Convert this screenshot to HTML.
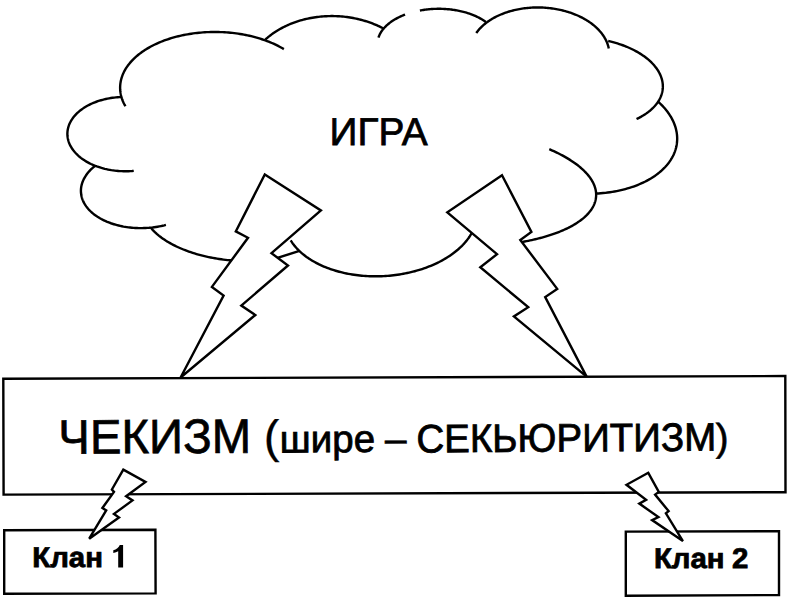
<!DOCTYPE html>
<html><head><meta charset="utf-8"><title>diagram</title>
<style>
html,body{margin:0;padding:0;background:#fff;width:790px;height:599px;overflow:hidden;}
svg{display:block;}
text{font-family:"Liberation Sans", sans-serif;}
</style></head><body>
<svg width="790" height="599" viewBox="0 0 790 599">
<g fill="none" stroke="#000" stroke-width="2.40" stroke-linecap="butt" stroke-linejoin="miter">
<path d="M125.42,106.28 L124.80,105.17 L124.21,104.06 L123.66,102.94 L123.15,101.82 L122.68,100.69 L122.24,99.56 L121.85,98.42 L121.50,97.27 L121.18,96.13 L120.91,94.98 L120.68,93.82 L120.49,92.67 L120.33,91.51 L120.22,90.35 L120.15,89.19 L120.12,88.03 L120.13,86.87 L120.18,85.71 L120.27,84.55 L120.40,83.40 L120.58,82.24 L120.79,81.09 L121.04,79.94 L121.33,78.80 L121.67,77.65 L122.04,76.52 L122.45,75.39 L122.90,74.26 L123.39,73.14 L123.92,72.03 L124.49,70.92 L125.10,69.82 L125.75,68.73 L126.43,67.64 L127.15,66.57 L127.91,65.50 L128.71,64.45 L129.55,63.40 L130.42,62.37 L131.32,61.34 L132.27,60.33 L133.24,59.33 L134.26,58.34 L135.30,57.37 L136.39,56.40 L137.50,55.46 L138.65,54.52 L139.83,53.60 L141.04,52.69 L142.29,51.80 L143.57,50.93 L144.87,50.07 L146.21,49.22 L147.58,48.40 L148.97,47.59 L150.39,46.79 L151.84,46.02 L153.32,45.26 L154.83,44.52 L156.36,43.80 L157.91,43.10 L159.49,42.42 L161.10,41.76 L162.73,41.11 L164.38,40.49 L166.05,39.89 L167.74,39.30 L169.45,38.74 L171.19,38.20 L172.94,37.68 L174.71,37.18 L176.50,36.71 L178.30,36.25 L180.12,35.82 L181.95,35.41 L183.80,35.02 L185.67,34.66 L187.54,34.32 L189.43,34.00 L191.33,33.70 L193.24,33.43 L195.16,33.18 L197.08,32.95 L199.02,32.75 L200.96,32.57 L202.91,32.41 L204.86,32.28 L206.82,32.17 L208.79,32.09 L210.75,32.02 L212.72,31.99 L214.69,31.97 L216.66,31.98 L218.63,32.02 L220.60,32.08 L222.56,32.16 L224.53,32.27 L226.49,32.40 L228.44,32.55 L230.39,32.73 L232.33,32.93 L234.27,33.15 L236.20,33.40 L238.12,33.67 L240.03,33.96 L241.93,34.28 L243.82,34.62 L245.70,34.98 L247.56,35.37 L249.41,35.77 L251.25,36.20 L253.07,36.66 L254.88,37.13 L256.67,37.63 L258.44,38.14 L260.20,38.68 L261.93,39.24 L263.65,39.82 L265.35,40.42 L267.02,41.04 L268.68,41.68 L270.31,42.34 L271.91,43.02 L273.50,43.72 L275.06,44.44 L276.59,45.18 L278.10,45.93 L279.58,46.71 L281.04,47.50 L282.47,48.31 L283.87,49.13"/>
<path d="M265.31,39.60 L266.31,38.70 L267.34,37.81 L268.39,36.93 L269.46,36.07 L270.55,35.23 L271.67,34.40 L272.80,33.58 L273.95,32.78 L275.12,32.00 L276.31,31.23 L277.52,30.48 L278.74,29.75 L279.99,29.03 L281.25,28.33 L282.52,27.65 L283.82,26.99 L285.13,26.34 L286.45,25.71 L287.79,25.10 L289.15,24.51 L290.52,23.94 L291.90,23.39 L293.30,22.85 L294.71,22.34 L296.13,21.84 L297.56,21.36 L299.01,20.91 L300.47,20.47 L301.93,20.05 L303.41,19.66 L304.90,19.28 L306.40,18.92 L307.90,18.59 L309.42,18.27 L310.94,17.98 L312.47,17.70 L314.00,17.45 L315.54,17.22 L317.09,17.01 L318.64,16.82 L320.20,16.65 L321.76,16.50 L323.33,16.38 L324.90,16.27 L326.47,16.19 L328.04,16.13 L329.62,16.08 L331.20,16.07 L332.78,16.07 L334.35,16.09 L335.93,16.14 L337.51,16.20 L339.09,16.29 L340.66,16.40 L342.23,16.53 L343.80,16.68 L345.37,16.85 L346.93,17.05 L348.49,17.26 L350.04,17.50 L351.59,17.75 L353.13,18.03 L354.67,18.33 L356.20,18.65 L357.72,18.99 L359.23,19.35 L360.74,19.73 L362.24,20.13 L363.72,20.55 L365.20,20.99 L366.67,21.45 L368.13,21.93 L369.57,22.43 L371.01,22.95 L372.43,23.49 L373.84,24.05 L375.24,24.62 L376.63,25.22 L378.00,25.83 L379.35,26.46 L380.69,27.11 L382.02,27.78 L383.33,28.47"/>
<path d="M378.49,37.58 L378.71,36.92 L378.95,36.26 L379.22,35.61 L379.50,34.96 L379.81,34.31 L380.14,33.67 L380.49,33.02 L380.87,32.39 L381.26,31.75 L381.68,31.12 L382.12,30.50 L382.58,29.88 L383.06,29.27 L383.56,28.66 L384.08,28.05 L384.63,27.45 L385.19,26.86 L385.77,26.28 L386.37,25.70 L386.99,25.12 L387.63,24.56 L388.30,24.00 L388.97,23.45 L389.67,22.90 L390.39,22.36 L391.12,21.84 L391.87,21.31 L392.64,20.80 L393.43,20.30 L394.23,19.80 L395.05,19.32 L395.88,18.84 L396.74,18.37 L397.60,17.91 L398.49,17.46 L399.38,17.02 L400.29,16.59 L401.22,16.17 L402.16,15.76 L403.11,15.37 L404.08,14.98 L405.06,14.60"/>
<path d="M419.90,10.51 L421.02,10.31 L422.15,10.12 L423.29,9.94 L424.43,9.77 L425.58,9.62 L426.73,9.48 L427.89,9.36 L429.05,9.24 L430.21,9.14 L431.38,9.05 L432.55,8.98 L433.72,8.92 L434.89,8.87 L436.06,8.83 L437.23,8.81 L438.41,8.80 L439.58,8.80 L440.75,8.82 L441.93,8.85 L443.10,8.89 L444.26,8.94 L445.43,9.01 L446.59,9.09 L447.75,9.19 L448.91,9.29 L450.06,9.41 L451.21,9.55 L452.35,9.69 L453.48,9.85 L454.61,10.02 L455.74,10.20 L456.85,10.40 L457.96,10.61 L459.06,10.83 L460.16,11.06 L461.24,11.31 L462.32,11.56 L463.39,11.83 L464.44,12.11 L465.49,12.41 L466.53,12.71 L467.55,13.03 L468.57,13.35 L469.57,13.69 L470.56,14.04 L471.54,14.40 L472.50,14.78 L473.45,15.16 L474.39,15.55 L475.32,15.95 L476.23,16.37 L477.12,16.79 L478.00,17.23 L478.87,17.67 L479.72,18.13 L480.55,18.59 L481.37,19.06 L482.17,19.54 L482.95,20.03 L483.72,20.53 L484.47,21.04 L485.20,21.56 L485.91,22.08"/>
<path d="M476.24,33.02 L476.82,32.21 L477.43,31.42 L478.06,30.63 L478.71,29.85 L479.39,29.08 L480.09,28.32 L480.82,27.56 L481.57,26.82 L482.34,26.09 L483.13,25.37 L483.94,24.66 L484.78,23.96 L485.64,23.27 L486.52,22.60 L487.42,21.93 L488.34,21.28 L489.28,20.64 L490.24,20.01 L491.22,19.40 L492.22,18.80 L493.24,18.21 L494.27,17.64 L495.33,17.08 L496.40,16.53 L497.48,16.00 L498.59,15.48 L499.71,14.98 L500.84,14.49 L501.99,14.02 L503.16,13.56 L504.34,13.12 L505.53,12.69 L506.74,12.28 L507.96,11.88 L509.19,11.50 L510.44,11.14 L511.69,10.79 L512.96,10.47 L514.24,10.15 L515.52,9.86 L516.82,9.58 L518.12,9.31 L519.44,9.07 L520.76,8.84 L522.09,8.63 L523.42,8.43 L524.77,8.26 L526.12,8.10 L527.47,7.96 L528.83,7.83 L530.19,7.73 L531.56,7.64 L532.93,7.57 L534.30,7.52 L535.67,7.48 L537.05,7.46 L538.42,7.47 L539.80,7.48 L541.18,7.52 L542.55,7.57 L543.93,7.65 L545.30,7.73 L546.68,7.84 L548.04,7.97 L549.41,8.11 L550.77,8.27 L552.13,8.45 L553.48,8.64 L554.83,8.85 L556.17,9.08 L557.51,9.33 L558.83,9.59 L560.15,9.87 L561.47,10.17 L562.77,10.49 L564.06,10.82 L565.35,11.16 L566.63,11.53 L567.89,11.91 L569.14,12.30 L570.39,12.72 L571.62,13.14 L572.83,13.59 L574.04,14.05 L575.23,14.52 L576.41,15.01 L577.57,15.51 L578.72,16.03 L579.85,16.56 L580.97,17.11 L582.07,17.67 L583.16,18.25 L584.22,18.84 L585.27,19.44 L586.31,20.05 L587.32,20.68 L588.32,21.32 L589.29,21.97 L590.25,22.64 L591.19,23.32 L592.10,24.00 L593.00,24.70 L593.88,25.42 L594.73,26.14 L595.56,26.87 L596.38,27.61 L597.17,28.36 L597.93,29.13 L598.68,29.90 L599.40,30.68 L600.09,31.47 L600.77,32.27 L601.42,33.07 L602.04,33.88 L602.65,34.71 L603.22,35.53 L603.78,36.37 L604.30,37.21 L604.80,38.06 L605.28,38.91 L605.73,39.77 L606.16,40.63 L606.56,41.50 L606.93,42.38 L607.27,43.25 L607.59,44.14 L607.89,45.02 L608.15,45.91 L608.39,46.80 L608.61,47.69 L608.79,48.59"/>
<path d="M608.20,41.01 L610.08,41.44 L611.95,41.91 L613.80,42.40 L615.63,42.92 L617.45,43.47 L619.24,44.04 L621.01,44.63 L622.76,45.25 L624.48,45.90 L626.17,46.57 L627.84,47.26 L629.49,47.98 L631.10,48.72 L632.68,49.48 L634.24,50.26 L635.76,51.07 L637.24,51.90 L638.70,52.74 L640.12,53.61 L641.50,54.49 L642.85,55.40 L644.16,56.32 L645.43,57.26 L646.66,58.21 L647.85,59.19 L649.00,60.17 L650.11,61.18 L651.17,62.19 L652.20,63.22 L653.18,64.26 L654.11,65.32 L655.01,66.39 L655.85,67.46 L656.65,68.55 L657.40,69.65 L658.11,70.75 L658.77,71.87 L659.38,72.99 L659.94,74.12 L660.45,75.25 L660.92,76.39 L661.33,77.53 L661.70,78.68 L662.01,79.82 L662.28,80.98 L662.49,82.13 L662.66,83.28 L662.77,84.43 L662.83,85.58 L662.85,86.73 L662.81,87.88 L662.72,89.02 L662.58,90.16 L662.39,91.30 L662.15,92.43 L661.86,93.55 L661.52,94.67 L661.13,95.78 L660.70,96.88 L660.21,97.97 L659.67,99.05 L659.08,100.12 L658.45,101.18 L657.77,102.23 L657.04,103.26 L656.26,104.28 L655.44,105.29 L654.58,106.29 L653.66,107.26 L652.71,108.23 L651.70,109.17 L650.66,110.10 L649.57,111.01 L648.44,111.90 L647.27,112.78 L646.06,113.63 L644.81,114.46 L643.52,115.28 L642.19,116.07 L640.83,116.84 L639.43,117.59 L637.99,118.31 L636.52,119.01"/>
<path d="M658.51,101.96 L659.89,103.25 L661.22,104.55 L662.51,105.88 L663.74,107.22 L664.92,108.57 L666.06,109.94 L667.14,111.32 L668.17,112.72 L669.14,114.13 L670.06,115.55 L670.93,116.98 L671.74,118.41 L672.50,119.86 L673.21,121.32 L673.85,122.78 L674.44,124.25 L674.98,125.72 L675.45,127.20 L675.87,128.68 L676.23,130.16 L676.54,131.65 L676.78,133.13 L676.97,134.62 L677.10,136.10 L677.17,137.59 L677.19,139.07 L677.14,140.54 L677.04,142.01 L676.87,143.48 L676.65,144.94 L676.38,146.39 L676.04,147.84 L675.65,149.27 L675.20,150.70 L674.69,152.11 L674.12,153.52 L673.50,154.91 L672.82,156.29 L672.09,157.65 L671.30,159.00 L670.46,160.34 L669.56,161.65 L668.61,162.95 L667.60,164.24 L666.55,165.50 L665.44,166.75 L664.28,167.97 L663.06,169.17 L661.80,170.36 L660.49,171.52 L659.13,172.65 L657.73,173.76 L656.27,174.85 L654.77,175.92 L653.23,176.95 L651.64,177.97 L650.01,178.95 L648.34,179.91 L646.62,180.84 L644.87,181.74 L643.07,182.61 L641.24,183.45 L639.37,184.26 L637.47,185.04 L635.53,185.79 L633.55,186.51 L631.55,187.20 L629.51,187.85 L627.45,188.47 L625.35,189.06 L623.23,189.62 L621.08,190.14 L618.91,190.63 L616.71,191.08 L614.49,191.50 L612.25,191.88 L609.99,192.23 L607.71,192.54 L605.41,192.82 L603.10,193.06 L600.78,193.26 L598.44,193.43 L596.09,193.56"/>
<path d="M549.30,149.20 L550.84,149.86 L552.35,150.53 L553.84,151.21 L555.31,151.89 L556.76,152.59 L558.19,153.29 L559.59,153.99 L560.97,154.70 L562.33,155.42 L563.67,156.15 L564.98,156.88 L566.26,157.62 L567.53,158.37 L568.77,159.12 L569.98,159.87 L571.17,160.64 L572.34,161.40 L573.47,162.18 L574.59,162.95 L575.68,163.74 L576.74,164.53 L577.77,165.32 L578.78,166.12 L579.76,166.92 L580.72,167.72 L581.65,168.53 L582.55,169.34 L583.42,170.16 L584.27,170.98 L585.08,171.81 L585.87,172.63 L586.63,173.46 L587.37,174.29 L588.07,175.13 L588.75,175.97 L589.39,176.81 L590.01,177.65 L590.60,178.49 L591.16,179.34 L591.69,180.19 L592.19,181.04 L592.67,181.89 L593.11,182.74 L593.52,183.59 L593.90,184.44 L594.26,185.29 L594.58,186.15 L594.87,187.00 L595.13,187.85 L595.37,188.71 L595.57,189.56 L595.74,190.41 L595.88,191.27 L596.00,192.12 L596.08,192.97 L596.13,193.81 L596.15,194.66 L596.14,195.51 L596.10,196.35 L596.03,197.19 L595.93,198.03 L595.80,198.87 L595.64,199.71 L595.45,200.54 L595.23,201.37 L594.98,202.19 L594.70,203.02 L594.38,203.84 L594.04,204.65 L593.67,205.47 L593.27,206.28 L592.84,207.08 L592.38,207.88 L591.89,208.68 L591.37,209.47 L590.82,210.26 L590.25,211.04 L589.64,211.82 L589.00,212.59 L588.34,213.36 L587.64,214.12 L586.92,214.88 L586.17,215.63 L585.39,216.37 L584.59,217.11 L583.75,217.84 L582.89,218.57 L582.00,219.29 L581.08,220.00 L580.14,220.70 L579.17,221.40 L578.17,222.09 L577.14,222.78 L576.09,223.45 L575.01,224.12 L573.91,224.78 L572.78,225.44 L571.63,226.08 L570.45,226.72 L569.24,227.35 L568.01,227.97 L566.76,228.58 L565.48,229.19 L564.18,229.78 L562.85,230.37 L561.50,230.95 L560.13,231.51 L558.74,232.07 L557.32,232.62 L555.88,233.16 L554.42,233.69 L552.93,234.21 L551.43,234.73 L549.90,235.23 L548.35,235.72 L546.79,236.20 L545.20,236.67 L543.59,237.13 L541.96,237.58 L540.32,238.02 L538.65,238.45 L536.97,238.87 L535.27,239.28 L533.55,239.67 L531.82,240.06 L530.06,240.43 L528.29,240.80 L526.51,241.15 L524.70,241.49 L522.89,241.82 L521.05,242.14"/>
<path d="M290.68,240.33 L291.40,241.47 L292.15,242.59 L292.94,243.70 L293.78,244.80 L294.64,245.89 L295.55,246.96 L296.49,248.02 L297.47,249.07 L298.48,250.11 L299.53,251.13 L300.61,252.13 L301.73,253.12 L302.88,254.09 L304.07,255.05 L305.28,255.99 L306.54,256.92 L307.82,257.82 L309.13,258.71 L310.47,259.58 L311.85,260.43 L313.25,261.26 L314.69,262.08 L316.15,262.87 L317.64,263.64 L319.15,264.40 L320.69,265.13 L322.26,265.84 L323.85,266.53 L325.47,267.20 L327.11,267.85 L328.78,268.48 L330.46,269.08 L332.17,269.66 L333.90,270.22 L335.65,270.75 L337.42,271.26 L339.21,271.75 L341.01,272.21 L342.83,272.65 L344.67,273.07 L346.52,273.46 L348.39,273.82 L350.28,274.17 L352.17,274.48 L354.08,274.77 L356.00,275.04 L357.93,275.28 L359.87,275.50 L361.82,275.69 L363.77,275.86 L365.74,276.00 L367.71,276.11 L369.68,276.20 L371.67,276.26 L373.65,276.30 L375.64,276.31 L377.63,276.30 L379.62,276.26 L381.61,276.20 L383.61,276.10 L385.60,275.99 L387.59,275.85 L389.57,275.68 L391.55,275.48 L393.53,275.27 L395.50,275.02 L397.47,274.75 L399.43,274.46 L401.38,274.14 L403.32,273.80 L405.26,273.43 L407.18,273.04 L409.09,272.62 L410.99,272.18 L412.87,271.71 L414.75,271.22 L416.60,270.71 L418.45,270.17 L420.27,269.61 L422.08,269.03 L423.88,268.43 L425.65,267.80 L427.40,267.15 L429.14,266.48 L430.85,265.79 L432.54,265.08 L434.22,264.34 L435.86,263.59 L437.49,262.81 L439.09,262.02 L440.66,261.20 L442.21,260.37 L443.73,259.51 L445.23,258.64 L446.70,257.75 L448.14,256.85 L449.55,255.92 L450.93,254.98 L452.29,254.02 L453.61,253.05 L454.90,252.06 L456.16,251.05 L457.39,250.03 L458.58,248.99 L459.74,247.94 L460.87,246.88 L461.96,245.81 L463.02,244.72 L464.04,243.62 L465.03,242.50 L465.98,241.38 L466.90,240.25 L467.77,239.10 L468.62,237.95 L469.42,236.78 L470.18,235.61 L470.91,234.43 L471.60,233.24 L472.25,232.04"/>
<path d="M150.88,227.80 L151.75,228.84 L152.66,229.86 L153.62,230.88 L154.63,231.89 L155.69,232.89 L156.78,233.89 L157.93,234.87 L159.11,235.84 L160.34,236.80 L161.61,237.75 L162.92,238.68 L164.28,239.61 L165.67,240.52 L167.10,241.41 L168.57,242.29 L170.08,243.16 L171.62,244.01 L173.20,244.84 L174.81,245.66 L176.46,246.46 L178.14,247.25 L179.85,248.01 L181.59,248.76 L183.37,249.49 L185.17,250.20 L187.00,250.89 L188.85,251.56 L190.73,252.21 L192.64,252.84 L194.57,253.45 L196.52,254.04 L198.49,254.60 L200.48,255.14 L202.49,255.67 L204.52,256.16 L206.57,256.64 L208.63,257.09 L210.70,257.52 L212.79,257.92 L214.89,258.30 L217.00,258.66 L219.12,258.99 L221.24,259.30 L223.38,259.58 L225.52,259.84 L227.66,260.07 L229.81,260.28 L231.96,260.46 L234.11,260.61 L236.25,260.74 L238.40,260.85 L240.54,260.93 L242.68,260.98 L244.82,261.01 L246.95,261.01 L249.06,260.99 L251.17,260.94 L253.27,260.86 L255.36,260.76 L257.44,260.63 L259.50,260.48 L261.54,260.30"/>
<path d="M272,259.6 L299.5,250.9"/>
<path d="M95.34,165.67 L94.25,166.53 L93.20,167.42 L92.19,168.32 L91.21,169.23 L90.28,170.16 L89.39,171.11 L88.54,172.07 L87.73,173.04 L86.97,174.02 L86.25,175.02 L85.57,176.03 L84.94,177.04 L84.35,178.07 L83.80,179.11 L83.31,180.15 L82.86,181.20 L82.45,182.26 L82.09,183.32 L81.78,184.38 L81.52,185.45 L81.30,186.52 L81.13,187.60 L81.01,188.67 L80.94,189.75 L80.91,190.83 L80.94,191.90 L81.01,192.97 L81.13,194.04 L81.29,195.11 L81.51,196.17 L81.77,197.23 L82.08,198.28 L82.43,199.32 L82.84,200.36 L83.29,201.38 L83.78,202.40 L84.32,203.41 L84.91,204.40 L85.54,205.39 L86.22,206.36 L86.94,207.32 L87.70,208.27 L88.50,209.20 L89.35,210.11 L90.24,211.01 L91.17,211.90 L92.14,212.76 L93.15,213.61 L94.20,214.44 L95.29,215.25 L96.41,216.04 L97.57,216.81 L98.76,217.55 L99.99,218.28 L101.25,218.99 L102.55,219.67 L103.87,220.32 L105.23,220.96 L106.61,221.57 L108.03,222.15 L109.47,222.71 L110.93,223.25 L112.42,223.76 L113.94,224.24 L115.48,224.69 L117.04,225.12 L118.62,225.52 L120.22,225.89 L121.83,226.24 L123.47,226.56 L125.12,226.84 L126.78,227.10 L128.46,227.33 L130.14,227.53 L131.84,227.70 L133.55,227.85 L135.26,227.96 L136.98,228.04 L138.71,228.09 L140.44,228.12 L142.17,228.11 L143.90,228.07 L145.63,228.01 L147.36,227.91 L149.09,227.79 L150.82,227.63 L152.53,227.45 L154.24,227.23 L155.95,226.99 L157.64,226.72 L159.32,226.42 L160.99,226.09 L162.65,225.73 L164.29,225.35 L165.92,224.93"/>
<path d="M121.08,97.06 L119.35,97.14 L117.62,97.26 L115.90,97.41 L114.19,97.59 L112.49,97.81 L110.81,98.06 L109.13,98.34 L107.47,98.65 L105.82,99.00 L104.19,99.38 L102.58,99.79 L100.99,100.24 L99.43,100.71 L97.88,101.21 L96.36,101.75 L94.87,102.31 L93.40,102.90 L91.96,103.52 L90.56,104.17 L89.18,104.85 L87.83,105.55 L86.52,106.28 L85.25,107.04 L84.01,107.82 L82.81,108.62 L81.64,109.45 L80.52,110.30 L79.43,111.17 L78.39,112.06 L77.39,112.97 L76.43,113.91 L75.52,114.86 L74.65,115.82 L73.83,116.81 L73.06,117.81 L72.33,118.82 L71.65,119.85 L71.02,120.89 L70.43,121.95 L69.90,123.01 L69.42,124.09 L68.98,125.17 L68.60,126.27 L68.27,127.37 L68.00,128.47 L67.77,129.58 L67.59,130.70 L67.47,131.82 L67.40,132.94 L67.38,134.06 L67.42,135.18 L67.51,136.30 L67.65,137.42 L67.84,138.54 L68.08,139.65 L68.38,140.76 L68.72,141.86 L69.12,142.95 L69.57,144.04 L70.07,145.11 L70.62,146.18 L71.22,147.24 L71.87,148.28 L72.56,149.31 L73.31,150.33 L74.10,151.33 L74.94,152.31 L75.82,153.28 L76.75,154.24 L77.72,155.17 L78.73,156.08 L79.79,156.98 L80.89,157.85 L82.03,158.70 L83.20,159.53 L84.42,160.34 L85.67,161.12 L86.96,161.88 L88.28,162.61 L89.63,163.32 L91.02,164.00 L92.44,164.65 L93.89,165.27 L95.36,165.87 L96.87,166.44 L98.39,166.97 L99.95,167.48 L101.52,167.96 L103.12,168.40 L104.73,168.82 L106.37,169.20 L108.02,169.55 L109.69,169.87 L111.37,170.16 L113.06,170.41 L114.76,170.63 L116.47,170.82 L118.20,170.97 L119.92,171.09 L121.65,171.17 L123.39,171.23 L125.12,171.24 L126.85,171.23 L128.59,171.18 L130.32,171.09 L132.04,170.98 L133.76,170.83"/>
</g>
<g fill="#fff" stroke="#000" stroke-width="2.40" stroke-linejoin="miter">
<polygon points="3.3,378.8 785.3,376.0 785.5,492.2 3.6,494.6"/>
<polygon points="4.2,530.2 155.4,529.7 155.6,593.4 4.2,593.8"/>
<polygon points="625.8,531.6 779.0,531.2 779.0,595.0 625.8,595.8"/>
<polygon points="264.8,174.5 320.9,210.5 271.5,253.2 288.0,265.5 241.3,305.6 255.3,315.0 180.6,377.5 223.6,295.6 211.9,286.9 248.0,237.8 235.8,231.4"/>
<polygon points="502.0,175.2 531.4,231.9 520.3,240.0 557.2,288.9 545.2,297.1 586.6,376.6 513.9,316.4 528.2,307.2 480.3,267.2 497.0,254.2 447.3,212.3"/>
<polygon points="123.3,469.6 145.5,482.0 126.1,496.2 132.5,500.4 114.0,513.9 119.0,517.4 89.2,538.7 106.2,510.4 102.4,508.0 114.0,491.9 111.9,489.5"/>
<polygon points="648.3,472.8 626.5,484.8 646.1,499.8 639.3,503.6 658.4,517.1 652.1,520.1 682.9,541.1 665.9,513.3 668.6,511.1 655.1,494.6 658.8,491.9"/>
</g>
<g fill="#000" stroke="#000" font-family="Liberation Sans, sans-serif" text-rendering="geometricPrecision">
<text transform="translate(329.6,145.3) scale(1,1.0)" font-size="38.8" stroke-width="0.8">ИГРА</text>
<text transform="translate(58.3,453.7) rotate(-0.3) scale(1,1.02)" font-size="47.4" stroke-width="0.7">ЧЕКИЗМ</text>
<text transform="translate(264,452.6) rotate(-0.3)" font-size="46" stroke-width="0.4">(</text>
<text transform="translate(279.7,452.5) rotate(-0.3)" font-size="38.6" stroke-width="0.8">шире</text>
<text transform="translate(384.9,451.9) rotate(-0.3)" font-size="38.8" stroke-width="0.6">–</text>
<text transform="translate(416.4,452.4) rotate(-0.33) scale(1,1.03)" font-size="38.5" stroke-width="0.8">СЕКЬЮРИТИЗМ</text>
<text transform="translate(715.7,450.8) rotate(-0.3)" font-size="38.6" stroke-width="0.6">)</text>
<text transform="translate(32.2,567.4) scale(1,0.965)" font-size="29.4" font-weight="bold" stroke-width="0.8">Клан</text>
<text transform="translate(653.9,568.4) scale(1,0.965)" font-size="29.4" font-weight="bold" stroke-width="0.8">Клан</text>
<text transform="translate(731.9,568.4) scale(1,0.965)" font-size="29.4" font-weight="bold" stroke-width="0.8">2</text>
<path stroke="none" d="M118.2,567.6 L123.1,567.6 L123.1,545 L119.8,545 C118.8,547.5 116.4,549.5 113.3,550.3 L113.3,553.1 C115.2,552.7 116.9,552.1 118.2,551.3 Z"/>
</g>

</svg>
</body></html>
